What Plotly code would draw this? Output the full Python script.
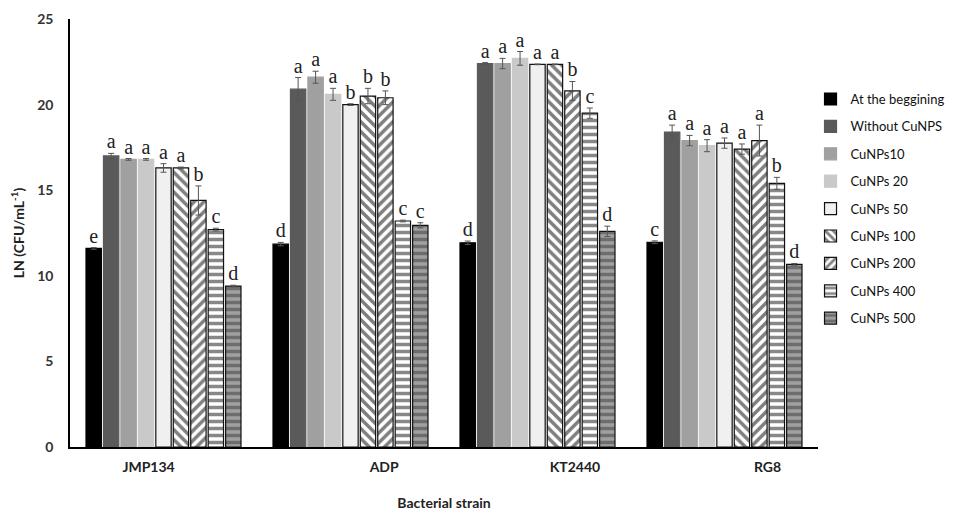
import plotly.graph_objects as go

strains = ["JMP134", "ADP", "KT2440", "RG8"]
series = ["At the beggining", "Without CuNPS", "CuNPs10", "CuNPs 20", "CuNPs 50",
          "CuNPs 100", "CuNPs 200", "CuNPs 400", "CuNPs 500"]

values = [
    [11.6, 11.85, 11.93, 11.96],
    [17.0, 20.9, 22.4, 18.4],
    [16.8, 21.6, 22.4, 17.9],
    [16.8, 20.6, 22.7, 17.6],
    [16.3, 20.0, 22.35, 17.75],
    [16.3, 20.5, 22.35, 17.4],
    [14.4, 20.4, 20.8, 17.9],
    [12.7, 13.2, 19.5, 15.4],
    [9.4, 12.95, 12.6, 10.67],
]
errors = [
    [0.05, 0.1, 0.1, 0.08],
    [0.15, 0.68, 0.05, 0.4],
    [0.05, 0.35, 0.3, 0.3],
    [0.05, 0.35, 0.4, 0.35],
    [0.25, 0.05, 0.02, 0.3],
    [0.05, 0.45, 0.02, 0.3],
    [0.85, 0.4, 0.55, 0.9],
    [0.08, 0.05, 0.3, 0.35],
    [0.05, 0.15, 0.3, 0.05],
]
letters = [
    ["e", "d", "d", "c"],
    ["a", "a", "a", "a"],
    ["a", "a", "a", "a"],
    ["a", "a", "a", "a"],
    ["a", "b", "a", "a"],
    ["a", "b", "a", "a"],
    ["b", "b", "b", "a"],
    ["c", "c", "c", "b"],
    ["d", "c", "d", "d"],
]

styles = [
    dict(color="#000000", line="#000000", shape="", bg=None, fg=None),
    dict(color="#5a5a5a", line="#5a5a5a", shape="", bg=None, fg=None),
    dict(color="#a0a0a0", line="#a0a0a0", shape="", bg=None, fg=None),
    dict(color="#c9c9c9", line="#c9c9c9", shape="", bg=None, fg=None),
    dict(color="#f0f0f0", line="#111111", shape="", bg=None, fg=None),
    dict(color="#ffffff", line="#111111", shape="\\", bg="#ffffff", fg="#000000"),
    dict(color="#ffffff", line="#111111", shape="/", bg="#ffffff", fg="#000000"),
    dict(color="#ffffff", line="#111111", shape="-", bg="#ffffff", fg="#111111"),
    dict(color="#8a8a8a", line="#111111", shape="-", bg="#a0a0a0", fg="#3a3a3a"),
]

xs = [0, 1, 2, 3]
fig = go.Figure()
for i, name in enumerate(series):
    st = styles[i]
    marker = dict(color=st["color"], line=dict(color=st["line"], width=1.2))
    if st["shape"]:
        marker["pattern"] = dict(shape=st["shape"], bgcolor=st["bg"], fgcolor=st["fg"],
                                 size=7, solidity=0.5, fillmode="overlay")
    fig.add_trace(go.Bar(
        x=xs, y=values[i], name=name, marker=marker, offsetgroup=str(i),
        legendgroup=str(i),
        error_y=dict(type="data", array=errors[i], color="#555555", thickness=1, width=3),
    ))
for i, name in enumerate(series):
    fig.add_trace(go.Scatter(
        x=xs, y=[v + e for v, e in zip(values[i], errors[i])], mode="text",
        text=letters[i], textposition="top center", offsetgroup=str(i),
        textfont=dict(family="Liberation Serif", size=20, color="#222222"),
        showlegend=False, hoverinfo="skip",
    ))

fig.update_layout(
    width=960, height=511,
    margin=dict(l=62, r=150, t=11, b=72, autoexpand=False),
    paper_bgcolor="white", plot_bgcolor="white",
    barmode="group", bargap=0.16, bargroupgap=0.12,
    scattermode="group", scattergap=0.16,
    font=dict(family="Lato", color="#333333"),
    showlegend=True,
    legend=dict(x=0.99, y=0.848, xanchor="left", yanchor="top",
                font=dict(family="Lato", size=13, color="#111111"),
                tracegroupgap=7.5, itemwidth=30, traceorder="grouped"),
)
fig.update_xaxes(
    range=[-0.5, 3.5], tickmode="array", automargin=False,
    tickvals=[-0.08, 1.18, 2.2, 3.23], ticktext=strains,
    showline=True, linecolor="#000000", linewidth=1.5, ticks="",
    showgrid=False, zeroline=False, ticklabelstandoff=6,
    tickfont=dict(family="Lato", size=14, color="#222222", weight="bold"),
    title=dict(text="<b>Bacterial strain</b>", font=dict(family="Lato", size=14, color="#222222"),
               standoff=25),
)
fig.update_yaxes(
    range=[0, 25], dtick=5, showline=True, linecolor="#000000", linewidth=1.5,
    ticks="", showgrid=False, zeroline=False, automargin=False, ticklabelstandoff=12,
    tickfont=dict(family="Lato", size=14, color="#333333", weight="bold"),
    title=dict(text="<b>LN (CFU/mL<sup>-1</sup>)</b>",
               font=dict(family="Lato", size=14, color="#222222"), standoff=10),
)
fig.write_html("out.html")
